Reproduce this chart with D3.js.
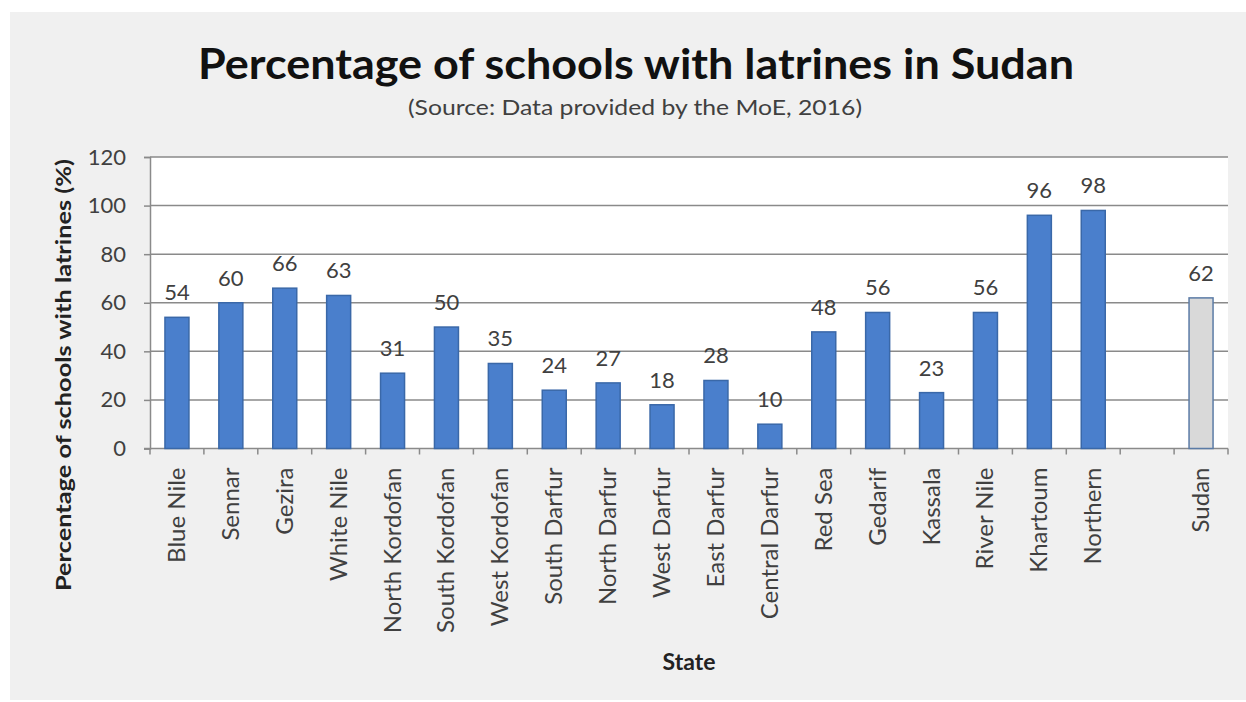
<!DOCTYPE html>
<html><head><meta charset="utf-8">
<script src="https://cdn.jsdelivr.net/npm/d3@7"></script>
<style>body{margin:0;background:#fff}svg{display:block}</style>
</head><body>
<script>
const categories = ["Blue Nile","Sennar","Gezira","White Nile","North Kordofan","South Kordofan","West Kordofan","South Darfur","North Darfur","West Darfur","East Darfur","Central Darfur","Red Sea","Gedarif","Kassala","River Nile","Khartoum","Northern","","Sudan"];
const values = [54,60,66,63,31,50,35,24,27,18,28,10,48,56,23,56,96,98,null,62];
const yTicks = [0,20,40,60,80,100,120];
const title = "Percentage of schools with latrines in Sudan";
const subtitle = "(Source: Data provided by the MoE, 2016)";
const yTitle = "Percentage of schools with latrines (%)";
const xTitle = "State";

const W = 1246, H = 702;
const font = "Lato, 'Open Sans', sans-serif";
const svg = d3.select("body").append("svg").attr("width", W).attr("height", H);
svg.append("rect").attr("x",10).attr("y",12).attr("width",W-10).attr("height",688).attr("fill","#f0f0f0");

const L = 150, R = 1228, T = 157, B = 448.5;
const x = d3.scaleBand().domain(categories.map((c,i)=>i)).range([L,R]).paddingInner(0).paddingOuter(0);
const y = d3.scaleLinear().domain([0,120]).range([B,T]);

svg.append("rect").attr("x",L).attr("y",T).attr("width",R-L).attr("height",B-T).attr("fill","#fff");

// gridlines
svg.append("g").selectAll("line").data(yTicks.filter(d=>d>0)).join("line")
  .attr("x1",L).attr("x2",R).attr("y1",d=>y(d)).attr("y2",d=>y(d))
  .attr("stroke","#8a8a8a").attr("stroke-width",1.5);

// y axis
const yAxis = svg.append("g").attr("transform",`translate(${L},0)`)
  .call(d3.axisLeft(y).tickValues(yTicks).tickSize(6).tickPadding(18));
yAxis.select(".domain").attr("stroke","#8a8a8a").attr("stroke-width",1.5);
yAxis.selectAll(".tick line").attr("stroke","#8a8a8a").attr("stroke-width",1.5);
yAxis.selectAll("text").attr("font-family",font).attr("font-size",22).attr("fill","#404040");

// x axis line
svg.append("line").attr("x1",L-6).attr("x2",R).attr("y1",B).attr("y2",B).attr("stroke","#8a8a8a").attr("stroke-width",1.5);
// category ticks at boundaries
const bounds = d3.range(categories.length+1).map(i => L + i*x.bandwidth());
svg.append("g").selectAll("line").data(bounds).join("line")
  .attr("x1",d=>d).attr("x2",d=>d).attr("y1",B).attr("y2",B+6)
  .attr("stroke","#8a8a8a").attr("stroke-width",1.5);

// bars
const bw = 24;
const data = categories.map((c,i)=>({c,i,v:values[i]})).filter(d=>d.v!=null);
svg.append("g").selectAll("rect").data(data).join("rect")
  .attr("x",d=>x(d.i)+x.bandwidth()/2-bw/2).attr("width",bw)
  .attr("y",d=>y(d.v)).attr("height",d=>B-y(d.v))
  .attr("fill",d=>d.c==="Sudan"?"#d9d9d9":"#4a7fcc")
  .attr("stroke",d=>d.c==="Sudan"?"#5b7ba6":"#3a68a8").attr("stroke-width",1.5);

// value labels
svg.append("g").selectAll("text").data(data).join("text")
  .attr("x",d=>x(d.i)+x.bandwidth()/2).attr("y",d=>y(d.v)-17)
  .attr("text-anchor","middle").attr("font-family",font).attr("font-size",22).attr("fill","#404040")
  .text(d=>d.v);

// category labels
svg.append("g").selectAll("text").data(categories.map((c,i)=>({c,i})).filter(d=>d.c)).join("text")
  .attr("transform",d=>`translate(${x(d.i)+x.bandwidth()/2+8},${B+19}) rotate(-90)`)
  .attr("text-anchor","end").attr("font-family",font).attr("font-size",24).attr("fill","#404040")
  .text(d=>d.c);

// titles
svg.append("text").attr("x",636).attr("y",79).attr("text-anchor","middle")
  .attr("font-family",font).attr("font-weight","bold").attr("font-size",42).attr("fill","#111")
  .attr("textLength",876).attr("lengthAdjust","spacingAndGlyphs").text(title);
svg.append("text").attr("x",635).attr("y",115).attr("text-anchor","middle")
  .attr("font-family",font).attr("font-size",21).attr("fill","#404040")
  .attr("textLength",454).attr("lengthAdjust","spacingAndGlyphs").text(subtitle);
svg.append("text").attr("transform","translate(71,375) rotate(-90)").attr("text-anchor","middle")
  .attr("font-family",font).attr("font-weight","bold").attr("font-size",20).attr("fill","#222")
  .attr("textLength",432).attr("lengthAdjust","spacingAndGlyphs").text(yTitle);
svg.append("text").attr("x",689).attr("y",670).attr("text-anchor","middle")
  .attr("font-family",font).attr("font-weight","bold").attr("font-size",23).attr("fill","#222")
  .text(xTitle);
</script>
</body></html>
